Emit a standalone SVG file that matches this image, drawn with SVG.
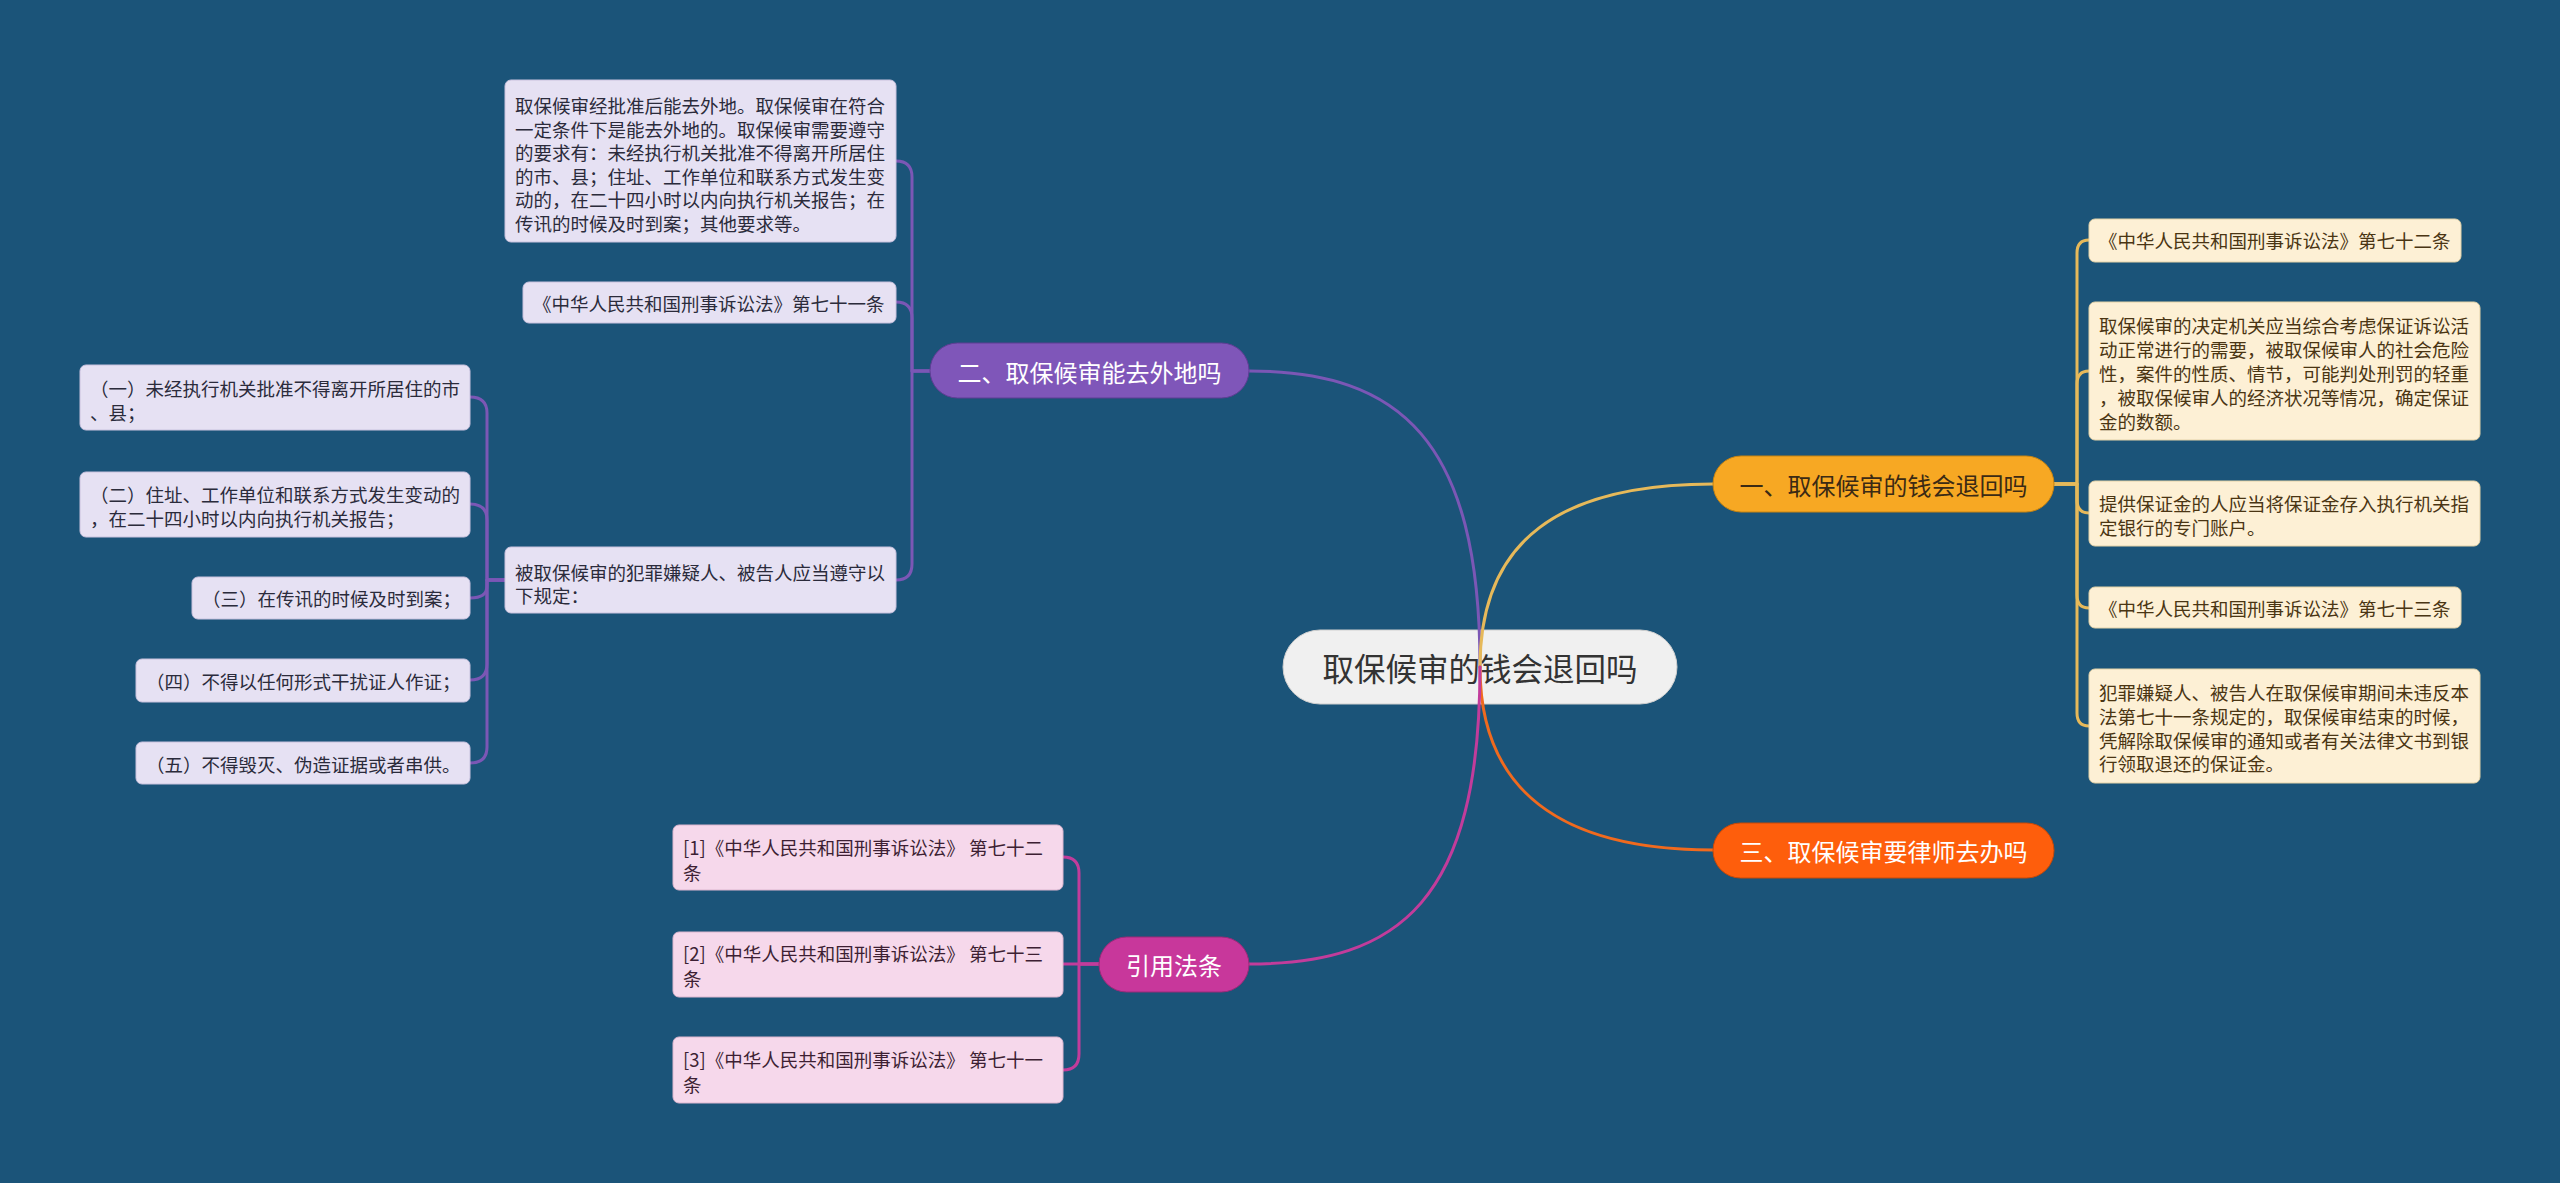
<svg xmlns="http://www.w3.org/2000/svg" width="2560" height="1183" viewBox="0 0 2560 1183">
<style>
text{font-family:"Noto Sans CJK SC","Noto Sans",sans-serif;dominant-baseline:central}
.c{fill:none;stroke-width:3;stroke-linecap:round;stroke-linejoin:round}
.lav{fill:#e6e1f3;stroke:#c9c2de;stroke-width:1}
.cre{fill:#fdf0d5;stroke:#e3d2a8;stroke-width:1}
.pnk{fill:#f6d8eb;stroke:#dcb6cf;stroke-width:1}
.tl{font-size:18.5px;fill:#2b2b3b}
.tc{font-size:18.5px;fill:#4a3513}
.tp{font-size:18.5px;fill:#3d1f33}
.bt{font-size:24px;text-anchor:middle}
</style>
<rect x="0" y="0" width="2560" height="1183" fill="#1b5479"/>

<g id="center">
<rect x="1283" y="630" width="394" height="74" rx="37" fill="#f0f0f0" stroke="#cfcfcf" stroke-width="1"/>
<text x="1480" y="667" font-size="31.5" text-anchor="middle" fill="#333333">取保候审的钱会退回吗</text>
</g>

<g id="connectors">
<path class="c" stroke="#7b57b5" d="M1480 667 C1480 440 1400 371 1249 371"/>
<path class="c" stroke="#e6b95a" d="M1480 667 C1480 540 1560 484 1713 484"/>
<path class="c" stroke="#f06a1e" d="M1480 667 C1480 790 1560 850 1713 850"/>
<path class="c" stroke="#c23c9b" d="M1480 667 C1480 900 1400 964 1249 964"/>

<path class="c" stroke="#e6b95a" d="M2054 484 H2077 V253 Q2077 240 2089 240"/>
<path class="c" stroke="#e6b95a" d="M2054 484 H2077 V384 Q2077 371 2089 371"/>
<path class="c" stroke="#e6b95a" d="M2054 484 H2077 V500 Q2077 513 2089 513"/>
<path class="c" stroke="#e6b95a" d="M2054 484 H2077 V595 Q2077 608 2089 608"/>
<path class="c" stroke="#e6b95a" d="M2054 484 H2077 V713 Q2077 726 2089 726"/>

<path class="c" stroke="#7b57b5" d="M930 371 H912 V177 Q912 161 896 161"/>
<path class="c" stroke="#7b57b5" d="M930 371 H912 V318 Q912 302 896 302"/>
<path class="c" stroke="#7b57b5" d="M930 371 H912 V564 Q912 580 896 580"/>

<path class="c" stroke="#7b57b5" d="M505 580 H487 V413 Q487 397 470 397"/>
<path class="c" stroke="#7b57b5" d="M505 580 H487 V520 Q487 504 470 504"/>
<path class="c" stroke="#7b57b5" d="M505 580 H487 V586 Q487 598 470 598"/>
<path class="c" stroke="#7b57b5" d="M505 580 H487 V664 Q487 680 470 680"/>
<path class="c" stroke="#7b57b5" d="M505 580 H487 V747 Q487 763 470 763"/>

<path class="c" stroke="#c23c9b" d="M1099 964 H1079 V873 Q1079 857 1063 857"/>
<path class="c" stroke="#c23c9b" d="M1099 964 H1063"/>
<path class="c" stroke="#c23c9b" d="M1099 964 H1079 V1054 Q1079 1070 1063 1070"/>
</g>

<g id="b1">
<rect x="1713" y="456" width="341" height="56" rx="28" fill="#f7a823" stroke="#c98410" stroke-width="1"/>
<text class="bt" x="1883.5" y="484" fill="#3b2a14">一、取保候审的钱会退回吗</text>
</g>
<g id="b2">
<rect x="930" y="343" width="319" height="55" rx="27.5" fill="#7f56b9" stroke="#5f3d94" stroke-width="1"/>
<text class="bt" x="1089.5" y="371" fill="#ffffff">二、取保候审能去外地吗</text>
</g>
<g id="b3">
<rect x="1713" y="823" width="341" height="55" rx="27.5" fill="#fe5e0c" stroke="#c84806" stroke-width="1"/>
<text class="bt" x="1883.5" y="850" fill="#ffffff">三、取保候审要律师去办吗</text>
</g>
<g id="b4">
<rect x="1099" y="937" width="150" height="55" rx="27.5" fill="#c8379b" stroke="#9a2a78" stroke-width="1"/>
<text class="bt" x="1174" y="964" fill="#ffffff">引用法条</text>
</g>

<g id="r1"><rect class="cre" x="2089" y="219" width="372" height="43" rx="6"/>
<text class="tc" x="2099" y="240">《中华人民共和国刑事诉讼法》第七十二条</text></g>
<g id="r2"><rect class="cre" x="2089" y="302" width="391" height="138" rx="6"/>
<text class="tc" x="2099" y="325">取保候审的决定机关应当综合考虑保证诉讼活</text>
<text class="tc" x="2099" y="349">动正常进行的需要，被取保候审人的社会危险</text>
<text class="tc" x="2099" y="373">性，案件的性质、情节，可能判处刑罚的轻重</text>
<text class="tc" x="2099" y="397">，被取保候审人的经济状况等情况，确定保证</text>
<text class="tc" x="2099" y="421">金的数额。</text></g>
<g id="r3"><rect class="cre" x="2089" y="481" width="391" height="65" rx="6"/>
<text class="tc" x="2099" y="503">提供保证金的人应当将保证金存入执行机关指</text>
<text class="tc" x="2099" y="527">定银行的专门账户。</text></g>
<g id="r4"><rect class="cre" x="2089" y="587" width="372" height="41" rx="6"/>
<text class="tc" x="2099" y="608">《中华人民共和国刑事诉讼法》第七十三条</text></g>
<g id="r5"><rect class="cre" x="2089" y="669" width="391" height="114" rx="6"/>
<text class="tc" x="2099" y="692">犯罪嫌疑人、被告人在取保候审期间未违反本</text>
<text class="tc" x="2099" y="716">法第七十一条规定的，取保候审结束的时候，</text>
<text class="tc" x="2099" y="739.5">凭解除取保候审的通知或者有关法律文书到银</text>
<text class="tc" x="2099" y="763">行领取退还的保证金。</text></g>

<g id="l1"><rect class="lav" x="505" y="80" width="391" height="162" rx="6"/>
<text class="tl" x="515" y="105">取保候审经批准后能去外地。取保候审在符合</text>
<text class="tl" x="515" y="128.6">一定条件下是能去外地的。取保候审需要遵守</text>
<text class="tl" x="515" y="152.2">的要求有：未经执行机关批准不得离开所居住</text>
<text class="tl" x="515" y="175.8">的市、县；住址、工作单位和联系方式发生变</text>
<text class="tl" x="515" y="199.4">动的，在二十四小时以内向执行机关报告；在</text>
<text class="tl" x="515" y="223">传讯的时候及时到案；其他要求等。</text></g>
<g id="l2"><rect class="lav" x="523" y="282" width="373" height="41" rx="6"/>
<text class="tl" x="533" y="302.5">《中华人民共和国刑事诉讼法》第七十一条</text></g>
<g id="l3"><rect class="lav" x="505" y="547" width="391" height="66" rx="6"/>
<text class="tl" x="515" y="572">被取保候审的犯罪嫌疑人、被告人应当遵守以</text>
<text class="tl" x="515" y="595">下规定：</text></g>

<g id="l3a"><rect class="lav" x="80" y="365" width="390" height="65" rx="6"/>
<text class="tl" x="90" y="388">（一）未经执行机关批准不得离开所居住的市</text>
<text class="tl" x="90" y="412">、县；</text></g>
<g id="l3b"><rect class="lav" x="80" y="472" width="390" height="65" rx="6"/>
<text class="tl" x="90" y="494">（二）住址、工作单位和联系方式发生变动的</text>
<text class="tl" x="90" y="518">，在二十四小时以内向执行机关报告；</text></g>
<g id="l3c"><rect class="lav" x="192" y="577" width="278" height="42" rx="6"/>
<text class="tl" x="202" y="598">（三）在传讯的时候及时到案；</text></g>
<g id="l3d"><rect class="lav" x="136" y="659" width="334" height="43" rx="6"/>
<text class="tl" x="146" y="681">（四）不得以任何形式干扰证人作证；</text></g>
<g id="l3e"><rect class="lav" x="136" y="742" width="334" height="42" rx="6"/>
<text class="tl" x="146" y="763.5">（五）不得毁灭、伪造证据或者串供。</text></g>

<g id="p1"><rect class="pnk" x="673" y="825" width="390" height="65" rx="6"/>
<text class="tp" x="683" y="847">[1]《中华人民共和国刑事诉讼法》 第七十二</text>
<text class="tp" x="683" y="872">条</text></g>
<g id="p2"><rect class="pnk" x="673" y="932" width="390" height="65" rx="6"/>
<text class="tp" x="683" y="953">[2]《中华人民共和国刑事诉讼法》 第七十三</text>
<text class="tp" x="683" y="978">条</text></g>
<g id="p3"><rect class="pnk" x="673" y="1037" width="390" height="66" rx="6"/>
<text class="tp" x="683" y="1059">[3]《中华人民共和国刑事诉讼法》 第七十一</text>
<text class="tp" x="683" y="1084">条</text></g>
</svg>
